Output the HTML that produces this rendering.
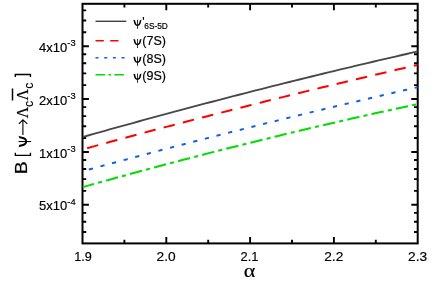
<!DOCTYPE html><html><head><meta charset="utf-8"><title>chart</title>
<style>html,body{margin:0;padding:0;background:#fff;}svg{display:block;will-change:transform}text{font-family:"Liberation Sans",sans-serif;fill:#000;stroke:#000;stroke-width:0.18px}</style></head><body>
<svg width="436" height="284" viewBox="0 0 436 284">
<rect width="436" height="284" fill="#fff"/>
<rect x="82.5" y="3.8" width="335.2" height="239.6" fill="none" stroke="#000" stroke-width="2.0"/>
<path d="M82.5,46.19h6.4M417.7,46.19h-6.4M82.5,99.06h6.4M417.7,99.06h-6.4M82.5,151.93h6.4M417.7,151.93h-6.4M82.5,204.80h6.4M417.7,204.80h-6.4M166.30,243.4v-6.4M166.30,3.8v6.4M250.10,243.4v-6.4M250.10,3.8v6.4M333.90,243.4v-6.4M333.90,3.8v6.4" stroke="#000" stroke-width="1.9" fill="none"/>
<path d="M82.5,10.34h3.7M417.7,10.34h-3.7M82.5,20.53h3.7M417.7,20.53h-3.7M82.5,32.28h3.7M417.7,32.28h-3.7M82.5,54.23h3.7M417.7,54.23h-3.7M82.5,63.21h3.7M417.7,63.21h-3.7M82.5,73.40h3.7M417.7,73.40h-3.7M82.5,85.15h3.7M417.7,85.15h-3.7M82.5,107.10h3.7M417.7,107.10h-3.7M82.5,116.08h3.7M417.7,116.08h-3.7M82.5,126.27h3.7M417.7,126.27h-3.7M82.5,138.02h3.7M417.7,138.02h-3.7M82.5,159.97h3.7M417.7,159.97h-3.7M82.5,168.95h3.7M417.7,168.95h-3.7M82.5,179.14h3.7M417.7,179.14h-3.7M82.5,190.89h3.7M417.7,190.89h-3.7M82.5,212.84h3.7M417.7,212.84h-3.7M82.5,221.82h3.7M417.7,221.82h-3.7M82.5,232.01h3.7M417.7,232.01h-3.7M124.40,243.4v-3.7M124.40,3.8v3.7M208.20,243.4v-3.7M208.20,3.8v3.7M292.00,243.4v-3.7M292.00,3.8v3.7M375.80,243.4v-3.7M375.80,3.8v3.7" stroke="#000" stroke-width="1.9" fill="none"/>
<clipPath id="cp"><rect x="82.5" y="3.8" width="335.2" height="239.6"/></clipPath>
<g clip-path="url(#cp)" fill="none">
<path d="M82.50,137.09 L88.09,135.51 L93.67,133.93 L99.26,132.35 L104.85,130.79 L110.43,129.22 L116.02,127.67 L121.61,126.12 L127.19,124.57 L132.78,123.03 L138.37,121.49 L143.95,119.96 L149.54,118.43 L155.13,116.91 L160.71,115.40 L166.30,113.89 L171.89,112.39 L177.47,110.89 L183.06,109.39 L188.65,107.90 L194.23,106.42 L199.82,104.94 L205.41,103.47 L210.99,102.00 L216.58,100.54 L222.17,99.09 L227.75,97.63 L233.34,96.19 L238.93,94.75 L244.51,93.31 L250.10,91.88 L255.69,90.46 L261.27,89.04 L266.86,87.62 L272.45,86.21 L278.03,84.81 L283.62,83.41 L289.21,82.02 L294.79,80.63 L300.38,79.25 L305.97,77.87 L311.55,76.50 L317.14,75.13 L322.73,73.77 L328.31,72.42 L333.90,71.07 L339.49,69.72 L345.07,68.38 L350.66,67.05 L356.25,65.72 L361.83,64.39 L367.42,63.07 L373.01,61.76 L378.59,60.45 L384.18,59.15 L389.77,57.85 L395.35,56.56 L400.94,55.27 L406.53,53.99 L412.11,52.71 L417.70,51.44" stroke="#484848" stroke-width="1.85"/>
<path d="M82.50,149.45 L88.09,147.92 L93.67,146.39 L99.26,144.86 L104.85,143.34 L110.43,141.82 L116.02,140.31 L121.61,138.80 L127.19,137.30 L132.78,135.80 L138.37,134.30 L143.95,132.81 L149.54,131.32 L155.13,129.84 L160.71,128.36 L166.30,126.88 L171.89,125.41 L177.47,123.95 L183.06,122.48 L188.65,121.03 L194.23,119.57 L199.82,118.12 L205.41,116.68 L210.99,115.24 L216.58,113.80 L222.17,112.37 L227.75,110.94 L233.34,109.52 L238.93,108.10 L244.51,106.68 L250.10,105.27 L255.69,103.86 L261.27,102.46 L266.86,101.06 L272.45,99.67 L278.03,98.28 L283.62,96.89 L289.21,95.51 L294.79,94.13 L300.38,92.76 L305.97,91.39 L311.55,90.03 L317.14,88.67 L322.73,87.31 L328.31,85.96 L333.90,84.61 L339.49,83.27 L345.07,81.93 L350.66,80.60 L356.25,79.27 L361.83,77.94 L367.42,76.62 L373.01,75.30 L378.59,73.99 L384.18,72.68 L389.77,71.37 L395.35,70.07 L400.94,68.77 L406.53,67.48 L412.11,66.19 L417.70,64.91" stroke="#ff0000" stroke-width="2" stroke-dasharray="11.5 8.32" stroke-dashoffset="-4.8"/>
<path d="M82.50,171.30 L88.09,169.77 L93.67,168.24 L99.26,166.72 L104.85,165.21 L110.43,163.70 L116.02,162.19 L121.61,160.68 L127.19,159.18 L132.78,157.69 L138.37,156.20 L143.95,154.71 L149.54,153.23 L155.13,151.75 L160.71,150.28 L166.30,148.81 L171.89,147.35 L177.47,145.89 L183.06,144.43 L188.65,142.98 L194.23,141.53 L199.82,140.09 L205.41,138.65 L210.99,137.22 L216.58,135.79 L222.17,134.36 L227.75,132.94 L233.34,131.53 L238.93,130.11 L244.51,128.71 L250.10,127.30 L255.69,125.90 L261.27,124.51 L266.86,123.12 L272.45,121.73 L278.03,120.35 L283.62,118.97 L289.21,117.60 L294.79,116.23 L300.38,114.87 L305.97,113.51 L311.55,112.15 L317.14,110.80 L322.73,109.45 L328.31,108.11 L333.90,106.77 L339.49,105.44 L345.07,104.11 L350.66,102.78 L356.25,101.46 L361.83,100.15 L367.42,98.83 L373.01,97.53 L378.59,96.22 L384.18,94.92 L389.77,93.63 L395.35,92.34 L400.94,91.05 L406.53,89.77 L412.11,88.49 L417.70,87.22" stroke="#0c62e2" stroke-width="2" stroke-dasharray="4.2 7.8" stroke-dashoffset="-6.6"/>
<path d="M82.50,187.20 L88.09,185.63 L93.67,184.06 L99.26,182.50 L104.85,180.94 L110.43,179.40 L116.02,177.85 L121.61,176.32 L127.19,174.79 L132.78,173.27 L138.37,171.75 L143.95,170.24 L149.54,168.74 L155.13,167.24 L160.71,165.75 L166.30,164.27 L171.89,162.79 L177.47,161.32 L183.06,159.85 L188.65,158.39 L194.23,156.94 L199.82,155.50 L205.41,154.06 L210.99,152.62 L216.58,151.20 L222.17,149.78 L227.75,148.36 L233.34,146.95 L238.93,145.55 L244.51,144.16 L250.10,142.77 L255.69,141.39 L261.27,140.01 L266.86,138.64 L272.45,137.28 L278.03,135.92 L283.62,134.57 L289.21,133.23 L294.79,131.89 L300.38,130.56 L305.97,129.23 L311.55,127.92 L317.14,126.60 L322.73,125.30 L328.31,124.00 L333.90,122.71 L339.49,121.42 L345.07,120.14 L350.66,118.87 L356.25,117.60 L361.83,116.34 L367.42,115.08 L373.01,113.84 L378.59,112.59 L384.18,111.36 L389.77,110.13 L395.35,108.91 L400.94,107.69 L406.53,106.48 L412.11,105.28 L417.70,104.08" stroke="#00dd00" stroke-width="2.05" stroke-dasharray="12.42 4.21 4.05 4.21" stroke-dashoffset="0.5"/>
</g>
<text x="74.30" y="260.5" font-size="13.3" textLength="17.6" lengthAdjust="spacingAndGlyphs">1.9</text>
<text x="156.60" y="260.5" font-size="13.3" textLength="19.1" lengthAdjust="spacingAndGlyphs">2.0</text>
<text x="240.60" y="260.5" font-size="13.3" textLength="17.9" lengthAdjust="spacingAndGlyphs">2.1</text>
<text x="324.20" y="260.5" font-size="13.3" textLength="19.1" lengthAdjust="spacingAndGlyphs">2.2</text>
<text x="408.00" y="260.5" font-size="13.3" textLength="19.1" lengthAdjust="spacingAndGlyphs">2.3</text>
<text x="39.1" y="51.79" font-size="13.6" textLength="28.2" lengthAdjust="spacingAndGlyphs">4x10</text>
<text x="67.3" y="46.44" font-size="9.3" text-anchor="start">-3</text>
<text x="39.1" y="104.66" font-size="13.6" textLength="28.2" lengthAdjust="spacingAndGlyphs">2x10</text>
<text x="67.3" y="99.31" font-size="9.3" text-anchor="start">-3</text>
<text x="39.1" y="157.53" font-size="13.6" textLength="28.2" lengthAdjust="spacingAndGlyphs">1x10</text>
<text x="67.3" y="152.18" font-size="9.3" text-anchor="start">-3</text>
<text x="39.1" y="210.40" font-size="13.6" textLength="28.2" lengthAdjust="spacingAndGlyphs">5x10</text>
<text x="67.3" y="205.05" font-size="9.3" text-anchor="start">-4</text>
<text transform="translate(243.8,276.7) scale(1.165,1)" font-size="19" style="font-family:'Liberation Serif',serif">α</text>
<path d="M95.5,21.3H126.3" stroke="#404040" stroke-width="1.4" fill="none"/>
<path d="M95.5,40.7H124" stroke="#ff0000" stroke-width="1.5" stroke-dasharray="8.3 6.4" fill="none"/>
<path d="M95.5,57.7H125.8" stroke="#0c62e2" stroke-width="1.5" stroke-dasharray="3 5.7" fill="none"/>
<path d="M95.5,74.7H125.8" stroke="#00dd00" stroke-width="1.5" stroke-dasharray="9.6 3.3 2.8 3.1" fill="none"/>
<g transform="translate(133.5,26) rotate(0) scale(1.0)" fill="#000"><path d="M8.00,-6.50C7.65,-4.60 7.35,-3.20 7.00,-2.25C6.50,-1.00 5.40,-0.20 3.95,-0.10L3.95,-1.30C4.80,-1.45 5.35,-2.10 5.70,-3.20C6.00,-4.20 6.20,-5.20 6.45,-6.05C6.90,-5.60 7.50,-5.90 8.00,-6.50Z"/><path d="M-0.10,-6.50C0.25,-4.60 0.55,-3.20 0.90,-2.25C1.40,-1.00 2.50,-0.20 3.95,-0.10L3.95,-1.30C3.10,-1.45 2.55,-2.10 2.20,-3.20C1.90,-4.20 1.70,-5.20 1.45,-6.05C1.00,-5.60 0.40,-5.90 -0.10,-6.50Z"/><path d="M3.55,-6.3H4.35V2.75H3.55Z"/></g>
<text x="142.2" y="26" font-size="12.5">'</text>
<text x="144.3" y="29.1" font-size="8.3">6S-5D</text>
<g transform="translate(133.5,45.2) rotate(0) scale(1.0)" fill="#000"><path d="M8.00,-6.50C7.65,-4.60 7.35,-3.20 7.00,-2.25C6.50,-1.00 5.40,-0.20 3.95,-0.10L3.95,-1.30C4.80,-1.45 5.35,-2.10 5.70,-3.20C6.00,-4.20 6.20,-5.20 6.45,-6.05C6.90,-5.60 7.50,-5.90 8.00,-6.50Z"/><path d="M-0.10,-6.50C0.25,-4.60 0.55,-3.20 0.90,-2.25C1.40,-1.00 2.50,-0.20 3.95,-0.10L3.95,-1.30C3.10,-1.45 2.55,-2.10 2.20,-3.20C1.90,-4.20 1.70,-5.20 1.45,-6.05C1.00,-5.60 0.40,-5.90 -0.10,-6.50Z"/><path d="M3.55,-6.3H4.35V2.75H3.55Z"/></g>
<text x="142.3" y="45.2" font-size="12.5">(7S)</text>
<g transform="translate(133.5,62.9) rotate(0) scale(1.0)" fill="#000"><path d="M8.00,-6.50C7.65,-4.60 7.35,-3.20 7.00,-2.25C6.50,-1.00 5.40,-0.20 3.95,-0.10L3.95,-1.30C4.80,-1.45 5.35,-2.10 5.70,-3.20C6.00,-4.20 6.20,-5.20 6.45,-6.05C6.90,-5.60 7.50,-5.90 8.00,-6.50Z"/><path d="M-0.10,-6.50C0.25,-4.60 0.55,-3.20 0.90,-2.25C1.40,-1.00 2.50,-0.20 3.95,-0.10L3.95,-1.30C3.10,-1.45 2.55,-2.10 2.20,-3.20C1.90,-4.20 1.70,-5.20 1.45,-6.05C1.00,-5.60 0.40,-5.90 -0.10,-6.50Z"/><path d="M3.55,-6.3H4.35V2.75H3.55Z"/></g>
<text x="142.3" y="62.9" font-size="12.5">(8S)</text>
<g transform="translate(133.5,79.9) rotate(0) scale(1.0)" fill="#000"><path d="M8.00,-6.50C7.65,-4.60 7.35,-3.20 7.00,-2.25C6.50,-1.00 5.40,-0.20 3.95,-0.10L3.95,-1.30C4.80,-1.45 5.35,-2.10 5.70,-3.20C6.00,-4.20 6.20,-5.20 6.45,-6.05C6.90,-5.60 7.50,-5.90 8.00,-6.50Z"/><path d="M-0.10,-6.50C0.25,-4.60 0.55,-3.20 0.90,-2.25C1.40,-1.00 2.50,-0.20 3.95,-0.10L3.95,-1.30C3.10,-1.45 2.55,-2.10 2.20,-3.20C1.90,-4.20 1.70,-5.20 1.45,-6.05C1.00,-5.60 0.40,-5.90 -0.10,-6.50Z"/><path d="M3.55,-6.3H4.35V2.75H3.55Z"/></g>
<text x="142.3" y="79.9" font-size="12.5">(9S)</text>
<text transform="translate(27.3,174.2) rotate(-90) scale(1.12,1.0)" font-size="17.3">B</text>
<path d="M15.35,152.8V155.3H30.45V152.8" stroke="#000" stroke-width="1.35" fill="none"/>
<g transform="translate(27.3,147.0) rotate(-90) scale(1.384)" fill="#000"><path d="M8.00,-6.50C7.65,-4.60 7.35,-3.20 7.00,-2.25C6.50,-1.00 5.40,-0.20 3.95,-0.10L3.95,-1.30C4.80,-1.45 5.35,-2.10 5.70,-3.20C6.00,-4.20 6.20,-5.20 6.45,-6.05C6.90,-5.60 7.50,-5.90 8.00,-6.50Z"/><path d="M-0.10,-6.50C0.25,-4.60 0.55,-3.20 0.90,-2.25C1.40,-1.00 2.50,-0.20 3.95,-0.10L3.95,-1.30C3.10,-1.45 2.55,-2.10 2.20,-3.20C1.90,-4.20 1.70,-5.20 1.45,-6.05C1.00,-5.60 0.40,-5.90 -0.10,-6.50Z"/><path d="M3.55,-6.3H4.35V2.75H3.55Z"/></g>
<path d="M22.9,135V120.2M18.9,123.8L22.9,119.8L27.3,123.8" stroke="#000" stroke-width="1.1" fill="none"/>
<text transform="translate(27.6,118.2) rotate(-90) scale(0.96,1.0)" font-size="16.5" style="font-family:'Liberation Serif',serif">Λ</text>
<text transform="translate(32.8,106.9) rotate(-90) scale(1.0,1.0)" font-size="12.3">c</text>
<text transform="translate(27.6,100.5) rotate(-90) scale(0.96,1.0)" font-size="16.5" style="font-family:'Liberation Serif',serif">Λ</text>
<path d="M12.5,100.5V88.5" stroke="#000" stroke-width="1.5" fill="none"/>
<text transform="translate(32.8,88.8) rotate(-90) scale(1.0,1.0)" font-size="12.3">c</text>
<path d="M15.25,76.9V74.5H30.45V76.9" stroke="#000" stroke-width="1.35" fill="none"/>
</svg></body></html>
